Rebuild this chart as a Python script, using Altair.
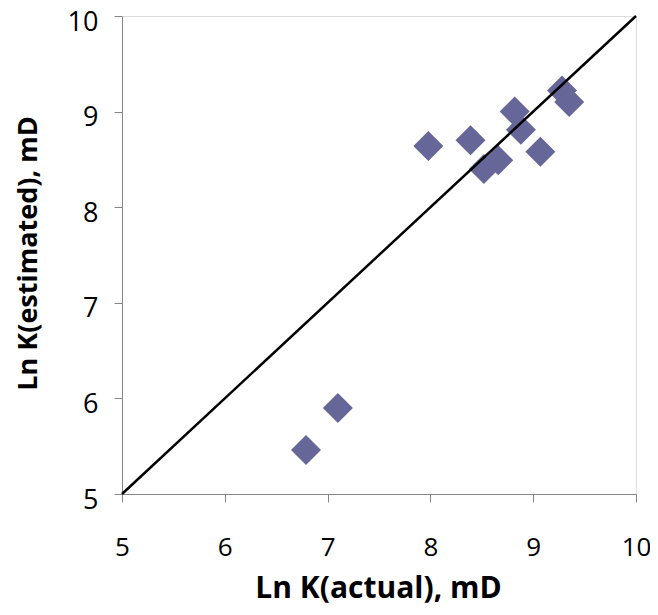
import altair as alt
import pandas as pd

# Data
actual = [6.79, 7.10, 7.98, 8.39, 8.52, 8.66, 8.82, 8.88, 9.07, 9.28, 9.35]
estimated = [5.46, 5.90, 8.64, 8.70, 8.40, 8.49, 9.00, 8.81, 8.58, 9.22, 9.10]
line_x = [5, 10]
line_y = [5, 10]
ticks = [5, 6, 7, 8, 9, 10]

pts = pd.DataFrame({"actual": actual, "estimated": estimated})
ref = pd.DataFrame({"actual": line_x, "estimated": line_y})

FONT = "Open Sans"

xscale = alt.Scale(domain=[5, 10], nice=False, zero=False)
yscale = alt.Scale(domain=[5, 10], nice=False, zero=False)

xaxis = alt.Axis(
    title="Ln K(actual), mD", values=ticks, grid=False, format="d",
    labelFont=FONT, labelFontSize=26, labelColor="black",
    labelBaseline="alphabetic", labelPadding=53, labelFlush=False,
    tickSize=8, tickColor="#868686", domainColor="#868686",
    titleFont=FONT, titleFontSize=30, titleFontWeight="bold", titleColor="black",
    titleBaseline="alphabetic", titleY=103, titleX=256,
)
yaxis = alt.Axis(
    title="Ln K(estimated), mD", values=ticks, grid=False, format="d",
    labelFont=FONT, labelFontSize=27, labelColor="black",
    labelBaseline="alphabetic", labelOffset=14, labelPadding=16, labelFlush=False,
    tickSize=8, tickColor="#868686", domainColor="#868686",
    titleFont=FONT, titleFontSize=27, titleFontWeight="bold", titleColor="black",
    titleBaseline="alphabetic", titleAlign="center", titleAngle=-90,
    titleX=-86, titleY=237,
)

points = alt.Chart(pts).mark_point(
    shape="diamond", filled=True, size=900, color="#666699", opacity=1
).encode(
    x=alt.X("actual:Q", scale=xscale, axis=xaxis),
    y=alt.Y("estimated:Q", scale=yscale, axis=yaxis),
)

line = alt.Chart(ref).mark_line(color="black", strokeWidth=2.5).encode(
    x=alt.X("actual:Q", scale=xscale),
    y=alt.Y("estimated:Q", scale=yscale),
)

chart = alt.layer(points, line).properties(
    width=514, height=478,
    autosize=alt.AutoSizeParams(type="none"),
    padding={"left": 114, "top": 8, "right": 14, "bottom": 113},
).configure_view(stroke="#868686", strokeWidth=1).configure(background="white")

chart.save("out.html", embed_options={"renderer": "svg", "actions": False})
